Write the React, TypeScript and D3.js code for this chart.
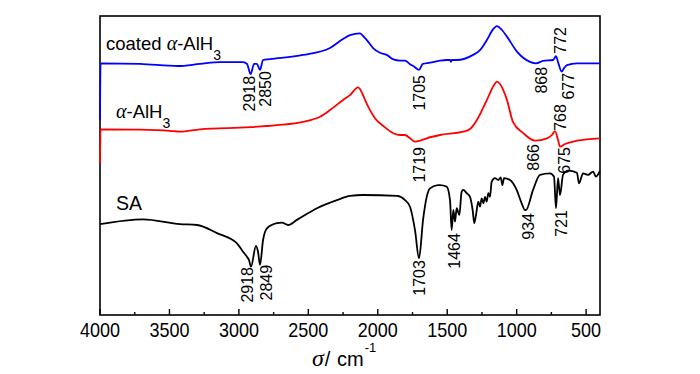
import React from 'react';
import * as d3 from 'd3';

// wavenumber (cm-1), transmittance (a.u., offset)
const coatedWn = [4000, 3996, 3712, 3438, 3280, 3136, 2970, 2942, 2915, 2891, 2870, 2848, 2826, 2776, 2538, 2344, 2250, 2200, 2128, 2106, 2080, 2032, 1984, 1936, 1888, 1840, 1804, 1768, 1739, 1703, 1676, 1624, 1552, 1502, 1480, 1473, 1466, 1430, 1314, 1264, 1214, 1178, 1142, 1106, 1070, 998, 904, 861, 810, 738, 717, 702, 676, 659, 638, 566, 400];
const coatedT = [65.0, 83.9, 83.7, 83.0, 83.7, 84.3, 84.3, 83.7, 80.3, 83.7, 83.7, 81.7, 85.0, 85.3, 86.7, 89.0, 92.0, 93.3, 93.9, 93.0, 91.7, 88.9, 87.4, 86.7, 85.2, 84.8, 84.8, 83.6, 82.8, 81.7, 83.7, 84.1, 84.8, 85.0, 85.0, 84.4, 85.0, 85.0, 86.7, 88.3, 91.7, 94.7, 96.3, 95.0, 92.8, 87.8, 84.4, 83.9, 84.7, 85.0, 86.3, 84.3, 81.1, 82.3, 83.3, 83.9, 83.9];

const alaneWn = [4000, 3996, 3712, 3496, 3424, 3280, 2920, 2726, 2538, 2416, 2344, 2250, 2200, 2142, 2106, 2092, 2056, 2020, 1960, 1888, 1840, 1804, 1768, 1732, 1696, 1648, 1552, 1386, 1336, 1286, 1214, 1163, 1142, 1120, 1070, 1026, 954, 868, 782, 746, 724, 702, 688, 652, 566, 400];
const alaneT = [50.7, 61.9, 61.8, 61.4, 61.1, 61.9, 62.6, 63.3, 64.4, 66.1, 68.3, 71.7, 73.3, 75.9, 73.3, 71.7, 68.3, 65.6, 63.0, 60.6, 60.0, 60.0, 58.9, 57.8, 58.1, 58.9, 60.0, 61.1, 62.0, 65.0, 71.7, 76.7, 77.8, 77.0, 71.7, 64.3, 60.7, 58.1, 58.9, 60.0, 61.3, 58.3, 56.1, 57.0, 58.1, 58.9];

const saWn = [4000, 3690, 3424, 3302, 3158, 3014, 2970, 2942, 2927, 2913, 2877, 2862, 2848, 2826, 2798, 2726, 2690, 2646, 2582, 2438, 2294, 2200, 2106, 1862, 1804, 1768, 1732, 1703, 1674, 1646, 1624, 1566, 1552, 1504, 1480, 1468, 1456, 1444, 1432, 1413, 1396, 1384, 1360, 1336, 1317, 1305, 1293, 1276, 1264, 1252, 1240, 1228, 1216, 1204, 1192, 1180, 1156, 1132, 1115, 1103, 1091, 1048, 1000, 964, 940, 933, 882, 832, 760, 731, 717, 702, 688, 666, 630, 566, 551, 522, 486, 450, 429, 400];
const saT = [30.3, 31.9, 30.3, 30.0, 27.3, 23.9, 21.1, 19.4, 18.3, 16.1, 23.0, 21.0, 16.7, 25.0, 28.9, 30.6, 30.8, 30.0, 31.7, 35.6, 38.3, 39.7, 40.0, 39.7, 38.3, 36.1, 28.3, 18.9, 31.7, 39.7, 42.2, 43.3, 43.3, 42.8, 38.3, 28.3, 35.0, 31.1, 35.6, 33.3, 41.1, 41.7, 40.6, 39.4, 35.0, 30.6, 33.3, 37.8, 36.1, 38.9, 37.2, 39.4, 37.8, 40.6, 39.4, 44.4, 45.6, 45.0, 45.9, 43.3, 45.6, 45.0, 41.7, 37.2, 35.0, 35.0, 41.7, 46.7, 47.2, 46.1, 35.6, 45.6, 40.0, 46.7, 48.1, 47.4, 43.9, 47.2, 46.7, 47.8, 46.1, 48.1];

const seriesColors = ['#0000ff', '#ff0000', '#000000'];

// peak labels: text, anchor wavenumber, top of label (a.u.)
const peakText = ['2918', '2850', '1705', '868', '772', '677', '1719', '866', '768', '675', '2918', '2849', '1703', '1464', '934', '721'];
const peakWn = [2927, 2812, 1703, 825, 688, 630, 1703, 882, 688, 659, 2942, 2805, 1703, 1451, 918, 681];
const peakTop = [79.7, 81.3, 80, 82.7, 96, 80.7, 56, 57, 70.3, 56, 16, 16.7, 18.3, 27.3, 34, 35];

const xTicks = [4000, 3500, 3000, 2500, 2000, 1500, 1000, 500];
const xMinor = [3750, 3250, 2750, 2250, 1750, 1250, 750];

const W = 700;
const H = 374;
const margin = { top: 16, right: 100, bottom: 59, left: 100 };
const sans = '"Liberation Sans", Arial, sans-serif';
const serif = '"Liberation Serif", "Times New Roman", serif';

const App: React.FC = () => {
  const x = d3.scaleLinear().domain([4000, 400]).range([margin.left, W - margin.right]);
  const y = d3.scaleLinear().domain([0, 100]).range([H - margin.bottom, H - margin.bottom - 300]);
  const line = d3.line<[number, number]>()
    .curve(d3.curveMonotoneX)
    .x(d => x(d[0]))
    .y(d => y(d[1]));

  const series = [
    d3.zip(coatedWn, coatedT) as [number, number][],
    d3.zip(alaneWn, alaneT) as [number, number][],
    d3.zip(saWn, saT) as [number, number][],
  ];
  const y0 = H - margin.bottom;

  return (
    <svg width={W} height={H} style={{ position: 'absolute', left: 0, top: 0 }}>
      <rect width={W} height={H} fill="#fff" />
      {/* frame */}
      <rect x={margin.left} y={margin.top} width={W - margin.left - margin.right}
        height={y0 - margin.top} fill="none" stroke="#000" strokeWidth={1.6} />
      {xTicks.map(t => (
        <g key={t}>
          <line x1={x(t)} x2={x(t)} y1={y0} y2={y0 - 6} stroke="#000" strokeWidth={1.4} />
          <text x={x(t)} y={y0 + 21.5} fontFamily={sans} fontSize={21} textAnchor="middle"
            textLength={String(t).length * 10} lengthAdjust="spacingAndGlyphs">{t}</text>
        </g>
      ))}
      {xMinor.map(t => (
        <line key={t} x1={x(t)} x2={x(t)} y1={y0} y2={y0 - 3} stroke="#000" strokeWidth={1.4} />
      ))}
      <text x={312} y={366} fontFamily={sans} fontSize={20}>
        <tspan fontFamily={serif} fontStyle="italic" fontSize={24}>σ</tspan>
        <tspan dx={1}>/ </tspan>
        <tspan dx={1}>cm</tspan>
        <tspan fontSize={13} dy={-14} dx={1}>-1</tspan>
      </text>

      {series.map((s, i) => (
        <path key={i} d={line(s) ?? ''} fill="none" stroke={seriesColors[i]} strokeWidth={1.8}
          strokeLinejoin="round" />
      ))}

      {peakText.map((t, i) => (
        <text key={i} transform={`translate(${x(peakWn[i])},${y(peakTop[i])}) rotate(-90)`}
          fontFamily={sans} fontSize={16} textAnchor="end" dy="0.35em">{t}</text>
      ))}

      <text x={106} y={49.5} fontFamily={sans} fontSize={18.5}>
        coated <tspan fontFamily={serif} fontStyle="italic" fontSize={20}>α</tspan>-AlH
        <tspan fontSize={14} dy={10}>3</tspan>
      </text>
      <text x={116} y={118.3} fontFamily={sans} fontSize={18.5}>
        <tspan fontFamily={serif} fontStyle="italic" fontSize={20}>α</tspan>-AlH
        <tspan fontSize={14} dy={10}>3</tspan>
      </text>
      <text x={116} y={210} fontFamily={sans} fontSize={19.5}>SA</text>
    </svg>
  );
};

export default App;
